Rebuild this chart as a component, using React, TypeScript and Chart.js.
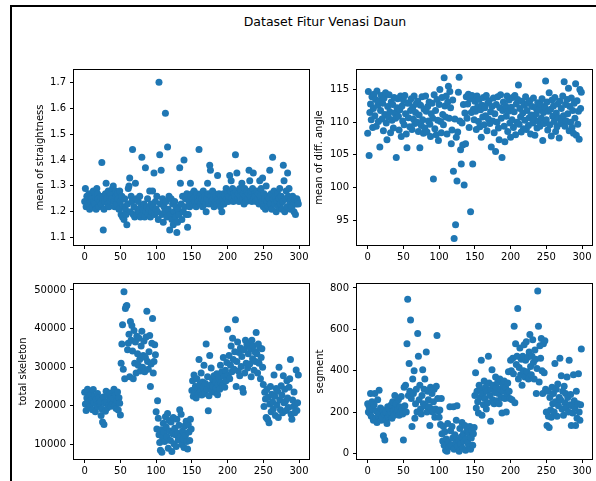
import React, { useEffect, useRef } from 'react';
import { Chart, registerables } from 'chart.js';

Chart.register(...registerables);

const TITLE = 'Dataset Fitur Venasi Daun';

const STRAIGHTNESS = [
  1.24, 1.29, 1.22, 1.26, 1.25, 1.23, 1.27, 1.21, 1.24, 1.26,
  1.25, 1.22, 1.28, 1.24, 1.23, 1.26, 1.21, 1.29, 1.27, 1.25,
  1.22, 1.24, 1.26, 1.23, 1.39, 1.25, 1.13, 1.21, 1.24, 1.27,
  1.31, 1.25, 1.23, 1.28, 1.22, 1.26, 1.24, 1.27, 1.25, 1.29,
  1.30, 1.24, 1.22, 1.28, 1.26, 1.23, 1.27, 1.25, 1.21, 1.28,
  1.24, 1.19, 1.26, 1.18, 1.22, 1.17, 1.25, 1.21, 1.19, 1.15,
  1.23, 1.29, 1.30, 1.33, 1.20, 1.26, 1.24, 1.44, 1.19, 1.22,
  1.18, 1.31, 1.25, 1.19, 1.21, 1.24, 1.20, 1.26, 1.18, 1.22,
  1.41, 1.19, 1.21, 1.23, 1.18, 1.37, 1.20, 1.22, 1.25, 1.19,
  1.21, 1.28, 1.18, 1.23, 1.20, 1.28, 1.22, 1.35, 1.19, 1.24,
  1.21, 1.26, 1.20, 1.17, 1.70, 1.42, 1.23, 1.36, 1.19, 1.25,
  1.16, 1.22, 1.20, 1.58, 1.24, 1.18, 1.45, 1.21, 1.26, 1.13,
  1.19, 1.25, 1.17, 1.23, 1.15, 1.20, 1.24, 1.18, 1.22, 1.12,
  1.16, 1.21, 1.19, 1.37, 1.31, 1.23, 1.17, 1.26, 1.20, 1.40,
  1.22, 1.25, 1.19, 1.27, 1.14, 1.19, 1.24, 1.22, 1.31, 1.26,
  1.27, 1.23, 1.25, 1.28, 1.24, 1.26, 1.22, 1.27, 1.25, 1.24,
  1.44, 1.26, 1.23, 1.27, 1.25, 1.22, 1.28, 1.24, 1.26, 1.23,
  1.20, 1.25, 1.31, 1.27, 1.23, 1.38, 1.36, 1.26, 1.24, 1.28,
  1.25, 1.22, 1.27, 1.24, 1.26, 1.23, 1.34, 1.25, 1.27, 1.24,
  1.22, 1.26, 1.20, 1.25, 1.27, 1.23, 1.26, 1.24, 1.29, 1.25,
  1.27, 1.24, 1.26, 1.34, 1.28, 1.32, 1.25, 1.29, 1.24, 1.27,
  1.26, 1.42, 1.28, 1.35, 1.25, 1.27, 1.24, 1.29, 1.26, 1.28,
  1.31, 1.25, 1.27, 1.23, 1.29, 1.26, 1.24, 1.28, 1.25, 1.27,
  1.36, 1.32, 1.26, 1.28, 1.24, 1.29, 1.35, 1.25, 1.27, 1.26,
  1.24, 1.28, 1.25, 1.27, 1.23, 1.32, 1.26, 1.29, 1.24, 1.33,
  1.22, 1.27, 1.25, 1.21, 1.30, 1.24, 1.26, 1.22, 1.25, 1.36,
  1.23, 1.27, 1.21, 1.41, 1.25, 1.28, 1.23, 1.26, 1.20, 1.24,
  1.27, 1.22, 1.25, 1.29, 1.23, 1.26, 1.21, 1.24, 1.38, 1.32,
  1.20, 1.25, 1.28, 1.22, 1.35, 1.26, 1.29, 1.24, 1.21, 1.25,
  1.22, 1.26, 1.24, 1.20, 1.25, 1.19, 1.23, 1.25, 1.24, 1.23,
];

const DIFF_ANGLE = [
  108.3, 114.7, 104.9, 111.5, 112.8, 110.4, 113.9, 109.2, 112.1, 114.3,
  111.0, 113.5, 109.4, 114.8, 112.6, 110.1, 113.2, 106.2, 111.8, 114.1,
  110.5, 112.9, 108.7, 113.7, 111.2, 114.5, 109.9, 107.3, 112.4, 110.8,
  114.2, 111.6, 108.4, 113.1, 110.3, 112.7, 109.1, 113.8, 111.4, 110.6,
  104.6, 112.2, 113.6, 110.9, 108.8, 111.9, 114.0, 107.8, 112.5, 110.2,
  113.4, 109.6, 114.1, 111.3, 108.2, 106.1, 112.9, 110.7, 113.0, 109.3,
  111.8, 113.6, 108.9, 112.3, 110.5, 114.0, 109.8, 111.5, 112.8, 110.0,
  113.2, 108.6, 111.1, 106.1, 112.6, 109.5, 113.9, 110.4, 108.3, 112.0,
  109.1, 114.0, 111.7, 108.5, 112.4, 110.2, 113.1, 109.7, 107.8, 111.3,
  112.9, 110.6, 101.3, 114.2, 109.0, 111.8, 108.1, 113.5, 110.3, 107.2,
  112.7, 115.0, 110.1, 108.4, 113.8, 111.2, 109.6, 116.8, 112.5, 110.8,
  114.0, 108.2, 113.1, 115.5, 110.6, 114.7, 112.2, 106.7, 108.8, 113.4,
  102.5, 92.2, 110.5, 94.3, 107.7, 101.0, 108.5, 114.6, 116.9, 110.2,
  105.8, 103.6, 109.9, 106.5, 112.7, 100.4, 111.4, 106.7, 113.9, 110.6,
  112.8, 114.3, 109.2, 113.6, 96.3, 111.5, 114.1, 103.6, 112.0, 110.4,
  113.2, 111.7, 108.9, 114.0, 112.4, 110.1, 113.5, 109.3, 111.9, 107.7,
  112.6, 110.8, 113.8, 109.6, 112.2, 111.0, 114.1, 108.7, 112.9, 110.5,
  113.3, 109.8, 111.6, 106.2, 112.4, 110.2, 113.7, 108.4, 111.3, 105.5,
  112.7, 110.0, 113.9, 109.1, 107.3, 112.2, 114.2, 110.6, 104.6, 111.8,
  113.1, 109.4, 107.0, 112.5, 110.9, 114.0, 108.6, 111.7, 113.4, 109.9,
  107.7, 112.3, 110.4, 113.8, 109.2, 111.6, 114.1, 108.1, 112.8, 110.0,
  113.5, 115.7, 109.7, 112.1, 110.8, 108.5, 113.2, 111.4, 109.0, 112.6,
  110.3, 113.9, 108.9, 111.8, 112.9, 109.5, 110.7, 113.3, 108.2, 111.1,
  112.4, 109.9, 113.7, 110.5, 108.0, 112.2, 111.3, 109.1, 113.0, 110.2,
  111.9, 109.4, 112.7, 110.6, 113.6, 107.2, 111.5, 109.8, 112.3, 116.3,
  110.4, 113.1, 108.8, 111.7, 114.5, 109.6, 112.0, 107.9, 113.4, 110.9,
  112.5, 110.1, 113.8, 108.6, 111.4, 109.3, 112.8, 110.7, 107.6, 113.2,
  109.8, 112.1, 110.5, 114.0, 111.0, 116.2, 109.4, 112.7, 110.2, 113.5,
  111.3, 115.2, 108.7, 112.4, 110.0, 113.7, 109.2, 111.8, 108.3, 112.9,
  110.6, 115.9, 108.0, 113.3, 109.7, 111.7, 107.4, 115.0, 112.1, 114.6,
];

const TOTAL_SKELETON = [
  23500, 20500, 18800, 22000, 24300, 21000, 19500, 22800, 20000, 23000,
  21500, 19000, 24200, 20800, 22500, 18500, 21800, 20200, 23200, 19800,
  22000, 20500, 21200, 17500, 19200, 15800, 22300, 15200, 20800, 18600,
  23800, 21000, 19500, 22600, 20200, 23300, 21700, 19900, 22400, 20600,
  21900, 24300, 20000, 22900, 19300, 21400, 23600, 18900, 22100, 20700,
  17600, 31000, 36000, 41000, 29500, 49500, 27000, 45200, 45800, 46000,
  34500, 36200, 38500, 27500, 41800, 37000, 40800, 34200, 27000, 39500,
  31000, 36500, 28500, 38000, 33500, 30500, 37500, 32000, 29000, 35500,
  39300, 30000, 33000, 36800, 28800, 32500, 37800, 44500, 31500, 29500,
  34000, 38200, 25000, 30800, 36200, 42600, 28500, 31500, 35800, 33200,
  18500, 14000, 21300, 16800, 12500, 10500, 8500, 13800, 8000, 11800,
  15500, 13200, 10800, 17200, 14500, 12000, 18000, 9000, 16200, 13500,
  11000, 15800, 8200, 12800, 17000, 10200, 14200, 12500, 9500, 16500,
  13000, 11200, 15000, 19000, 12000, 17800, 10000, 13500, 11500, 9200,
  14800, 12300, 16000, 10800, 8800, 15200, 13200, 11000, 16500, 14000,
  24000, 26500, 22500, 28000, 23500, 25000, 22000, 27000, 24500, 23000,
  32000, 25500, 23800, 28500, 22800, 26200, 24800, 30500, 23200, 25800,
  36000, 24200, 27500, 18700, 22600, 33000, 25300, 29800, 24000, 26800,
  25000, 27800, 23500, 26200, 24600, 28300, 22900, 25600, 27200, 24300,
  30500, 26000, 28800, 25200, 32500, 27600, 24800, 29200, 26500, 31200,
  39800, 28000, 33000, 27000, 30500, 35500, 28800, 37500, 32000, 29500,
  34000, 42300, 25000, 31500, 36500, 29000, 33800, 27800, 35000, 30200,
  32800, 24500, 23500, 34500, 28500, 37000, 31000, 35800, 29800, 33500,
  36200, 30800, 34800, 27500, 37000, 32200, 35500, 29200, 34000, 31500,
  39000, 33500, 28500, 36000, 31000, 35000, 27000, 32500, 34800, 30000,
  25500, 19800, 23500, 21800, 17000, 24200, 16500, 22200, 15600, 20500,
  25000, 18500, 23000, 21000, 19200, 28000, 22500, 17500, 24500, 20200,
  23800, 17000, 30000, 21500, 19000, 25200, 22800, 18200, 27800, 20800,
  24300, 21200, 18800, 26500, 22000, 19600, 24800, 27000, 32000, 17800,
  16500, 21500, 19800, 23600, 18200, 20500, 29300, 18800, 20800, 28000,
];

const SEGMENT = [
  240, 200, 225, 195, 290, 180, 250, 215, 160, 235,
  290, 170, 205, 150, 260, 185, 305, 195, 220, 160,
  175, 210, 85, 190, 65, 200, 160, 145, 225, 180,
  215, 190, 200, 235, 170, 250, 205, 185, 280, 220,
  240, 195, 210, 260, 185, 225, 200, 275, 215, 190,
  65, 320, 230, 330, 200, 530, 745, 280, 435, 300,
  645, 265, 130, 360, 290, 400, 170, 240, 310, 200,
  580, 470, 260, 330, 215, 190, 280, 405, 240, 310,
  360, 230, 490, 200, 300, 260, 225, 135, 320, 215,
  290, 200, 250, 310, 175, 215, 325, 570, 265, 205,
  175, 210, 140, 265, 95, 60, 130, 40, 105, 15,
  70, 10, 145, 55, 30, 225, 110, 40, 130, 75,
  225, 20, 90, 50, 160, 230, 35, 65, 10, 120,
  45, 80, 150, 25, 95, 60, 135, 15, 70, 110,
  50, 100, 30, 130, 20, 75, 110, 40, 95, 125,
  280, 390, 220, 300, 250, 195, 330, 270, 310, 450,
  185, 290, 235, 350, 265, 320, 215, 300, 245, 470,
  340, 280, 155, 310, 405, 260, 330, 240, 295, 370,
  320, 255, 345, 290, 240, 360, 310, 270, 195, 335,
  300, 350, 265, 320, 200, 290, 340, 395, 300, 265,
  450, 400, 260, 460, 385, 615, 245, 530, 430, 470,
  700, 360, 415, 510, 380, 455, 330, 470, 400, 525,
  370, 450, 540, 395, 465, 360, 490, 575, 420, 380,
  470, 550, 440, 360, 500, 455, 290, 410, 785, 615,
  345, 520, 460, 555, 400, 290, 530, 390, 545, 310,
  200, 135, 300, 180, 125, 270, 210, 175, 320, 240,
  290, 200, 435, 250, 310, 180, 335, 230, 270, 460,
  260, 375, 215, 300, 185, 325, 245, 290, 220, 370,
  270, 200, 450, 235, 285, 135, 230, 195, 380, 255,
  220, 135, 300, 170, 240, 385, 200, 160, 235, 505,
];

const X_TICKS = [0, 50, 100, 150, 200, 250, 300];
const STRAIGHT_TICKS = [1.1, 1.2, 1.3, 1.4, 1.5, 1.6, 1.7];
const ANGLE_TICKS = [95, 100, 105, 110, 115];
const SKELETON_TICKS = [10000, 20000, 30000, 40000, 50000];
const SEGMENT_TICKS = [0, 200, 400, 600, 800];

const FONT = 'DejaVu Sans';
const PT = 8;
const PR = 4;
const HX = 20;

const boxPlugin = {
  id: 'axesBox',
  afterDatasetsDraw(chart: any) {
    const { ctx, chartArea } = chart;
    const l = Math.round(chartArea.left);
    const t = Math.round(chartArea.top);
    const r = Math.round(chartArea.right);
    const b = Math.round(chartArea.bottom);
    ctx.save();
    ctx.strokeStyle = '#000';
    ctx.lineWidth = 1;
    ctx.strokeRect(l - 0.5, t - 0.5, r - l + 1, b - t + 1);
    ctx.restore();
  },
};

type PanelCfg = {
  label: string;
  values: number[];
  ticks: number[];
  yMin: number;
  yMax: number;
  fmt: (v: number) => string;
  area: { l: number; t: number; r: number; b: number };
  yw: number;
};

const PANELS: PanelCfg[] = [
  {
    label: 'mean of straightness', values: STRAIGHTNESS, ticks: STRAIGHT_TICKS,
    yMin: 1.072, yMax: 1.747, fmt: (v) => v.toFixed(1),
    area: { l: 74, t: 68, r: 309, b: 245 }, yw: 44,
  },
  {
    label: 'mean of diff. angle', values: DIFF_ANGLE, ticks: ANGLE_TICKS,
    yMin: 91.2, yMax: 118.0, fmt: (v) => String(v),
    area: { l: 357, t: 68, r: 592, b: 245 }, yw: 48,
  },
  {
    label: 'total skeleton', values: TOTAL_SKELETON, ticks: SKELETON_TICKS,
    yMin: 6238, yMax: 51535, fmt: (v) => String(v),
    area: { l: 74, t: 282, r: 309, b: 459 }, yw: 61,
  },
  {
    label: 'segment', values: SEGMENT, ticks: SEGMENT_TICKS,
    yMin: -27, yMax: 819, fmt: (v) => String(v),
    area: { l: 357, t: 282, r: 592, b: 459 }, yw: 47,
  },
];

function Panel({ cfg }: { cfg: PanelCfg }) {
  const ref = useRef<HTMLCanvasElement>(null);
  const { area, yw } = cfg;
  const w = yw + (area.r - area.l) + PR;
  const h = PT + (area.b - area.t) + HX;

  useEffect(() => {
    if (!ref.current) return;
    const gridOpts = {
      display: true,
      drawOnChartArea: false,
      drawTicks: true,
      tickLength: 4,
      color: '#000',
      lineWidth: 1,
    };
    const chart = new Chart(ref.current, {
      type: 'scatter',
      data: {
        datasets: [
          {
            data: cfg.values.map((v, i) => ({ x: i, y: v })),
            backgroundColor: '#1f77b4',
            borderWidth: 0,
            pointRadius: 3.5,
            pointHoverRadius: 3.5,
          },
        ],
      },
      options: {
        animation: false,
        responsive: false,
        events: [],
        layout: { padding: { top: PT, right: PR, left: 0, bottom: 0 } },
        plugins: { legend: { display: false }, tooltip: { enabled: false }, title: { display: false } },
        scales: {
          x: {
            type: 'linear',
            min: -14.95,
            max: 313.95,
            afterBuildTicks: (s: any) => { s.ticks = X_TICKS.map((v) => ({ value: v })); },
            afterFit: (s: any) => { s.height = HX; },
            grid: gridOpts,
            border: { display: false },
            ticks: {
              color: '#000',
              font: { family: FONT, size: 10 },
              padding: 2,
              maxRotation: 0,
              autoSkip: false,
              callback: (v: any) => String(v),
            },
          },
          y: {
            type: 'linear',
            min: cfg.yMin,
            max: cfg.yMax,
            afterBuildTicks: (s: any) => { s.ticks = cfg.ticks.map((v) => ({ value: v })); },
            afterFit: (s: any) => { s.width = yw; },
            grid: gridOpts,
            border: { display: false },
            title: {
              display: true,
              text: cfg.label,
              color: '#000',
              font: { family: FONT, size: 10 },
              padding: { top: 4, bottom: 4 },
            },
            ticks: {
              color: '#000',
              font: { family: FONT, size: 10 },
              padding: 4,
              autoSkip: false,
              callback: (v: any) => cfg.fmt(Number(v)),
            },
          },
        },
      },
      plugins: [boxPlugin],
    } as any);
    return () => chart.destroy();
  }, [cfg]);

  return (
    <canvas
      ref={ref}
      width={w}
      height={h}
      style={{ position: 'absolute', left: area.l - yw, top: area.t - PT, width: w, height: h }}
    />
  );
}

export default function App() {
  return (
    <div
      style={{
        position: 'absolute',
        left: 0,
        top: 0,
        width: 596,
        height: 481,
        overflow: 'hidden',
        background: '#fff',
        fontFamily: FONT,
      }}
    >
      <div
        style={{
          position: 'absolute',
          left: 10,
          top: 5,
          width: 600,
          height: 500,
          borderTop: '2px solid #000',
          borderLeft: '2px solid #000',
          boxSizing: 'border-box',
        }}
      />
      <div
        style={{
          position: 'absolute',
          left: 175,
          top: 15,
          width: 300,
          textAlign: 'center',
          fontSize: 12.5,
          lineHeight: '14px',
          color: '#000',
          whiteSpace: 'nowrap',
        }}
      >
        {TITLE}
      </div>
      {PANELS.map((p) => (
        <Panel key={p.label} cfg={p} />
      ))}
    </div>
  );
}
